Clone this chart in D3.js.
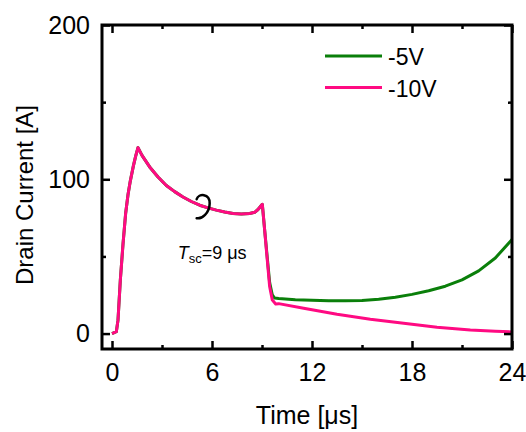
<!DOCTYPE html>
<html><head><meta charset="utf-8">
<script src="https://cdn.jsdelivr.net/npm/d3@7"></script>
<style>
body{margin:0;background:#fff;}
svg{display:block;font-family:"Liberation Sans",Arial,sans-serif;}
</style></head>
<body>
<svg id="c" width="526" height="432"></svg>
<script>
// ---- data ----
const seriesNames = ["-5V", "-10V"];
const seriesColors = ["#0a7f0a", "#ff0a82"];
const timeShared = [0, 0.26, 0.36, 0.5, 0.66, 0.82, 0.96, 1.1, 1.28, 1.42, 1.56, 1.8, 2.26, 2.76, 3.26, 3.76, 4.26, 4.76, 5.26, 5.76, 6.26, 6.76, 7.26, 7.76, 8.26, 8.56, 8.76, 8.92, 9.02, 9.16];
const currentShared = [0, 1.2, 8.7, 34.6, 58, 78, 90, 99, 108.5, 115, 120.5, 115.5, 108, 101.5, 96, 92, 88.5, 85.6, 83.2, 81.5, 80, 78.8, 77.8, 77.5, 77.8, 78.6, 80.4, 82.5, 83.8, 67];
const timeTail5 = [9.3, 9.46, 9.62, 9.76, 10, 11, 12, 13, 14, 15, 16, 17, 18, 19, 20, 21, 22, 23, 24];
const currentTail5 = [51, 33, 25, 23, 22.7, 22, 21.6, 21.3, 21.2, 21.5, 22.3, 23.6, 25.4, 27.8, 30.7, 34.8, 40.6, 49, 61];
const timeTail10 = [9.3, 9.46, 9.62, 9.82, 10, 11.5, 13.5, 15.5, 17.5, 19.5, 21.5, 23, 24];
const currentTail10 = [49.7, 30.3, 21.7, 19.2, 19.4, 16.4, 12.5, 9.3, 6.7, 4.1, 2.3, 1.5, 1.1];
const xTicks = [0, 6, 12, 18, 24];
const xMinorTicks = [3, 9, 15, 21];
const yTicks = [0, 100, 200];
const yMinorTicks = [50, 150];
const xTitle = "Time [μs]";
const yTitle = "Drain Current [A]";
const annotation = {t: 5.44, v: 81.9};

// ---- layout ----
const L = 102, T = 25, R = 512, B = 349;
const svg = d3.select("#c");
const x = d3.scaleLinear().domain([-0.6, 24]).range([L, R]);
const y = d3.scaleLinear().domain([-10, 200]).range([B, T]);

const build = (ts, vs) => ts.map((t, i) => ({t, v: vs[i]}));
const data5 = build(timeShared, currentShared).concat(build(timeTail5, currentTail5));
const data10 = build(timeShared, currentShared).concat(build(timeTail10, currentTail10));

const line = d3.line().x(d => x(d.t)).y(d => y(d.v)).curve(d3.curveLinear);

const plot = svg.append("g");
plot.append("path").datum(data5).attr("d", line).attr("fill", "none")
  .attr("stroke", seriesColors[0]).attr("stroke-width", 3).attr("stroke-linejoin", "round");
plot.append("path").datum(data10).attr("d", line).attr("fill", "none")
  .attr("stroke", seriesColors[1]).attr("stroke-width", 3).attr("stroke-linejoin", "round");

// ---- axes ----
function styleAxis(g) {
  g.select(".domain").remove();
  g.selectAll(".tick line").attr("stroke", "#000").attr("stroke-width", 2.5);
  g.selectAll(".tick text").attr("font-size", 25).attr("fill", "#000")
    .attr("font-family", "Liberation Sans, Arial, sans-serif");
}
svg.append("g").attr("transform", `translate(0,${B})`)
  .call(d3.axisBottom(x).tickValues(xTicks).tickSize(-8).tickPadding(14)).call(styleAxis);
svg.append("g").attr("transform", `translate(0,${B})`)
  .call(d3.axisBottom(x).tickValues(xMinorTicks).tickSize(-4).tickFormat("")).call(styleAxis);
svg.append("g").attr("transform", `translate(0,${T})`)
  .call(d3.axisTop(x).tickValues(xTicks).tickSize(-8).tickFormat("")).call(styleAxis);
svg.append("g").attr("transform", `translate(0,${T})`)
  .call(d3.axisTop(x).tickValues(xMinorTicks).tickSize(-4).tickFormat("")).call(styleAxis);
svg.append("g").attr("transform", `translate(${L},0)`)
  .call(d3.axisLeft(y).tickValues(yTicks).tickSize(-8).tickPadding(12)).call(styleAxis);
svg.append("g").attr("transform", `translate(${L},0)`)
  .call(d3.axisLeft(y).tickValues(yMinorTicks).tickSize(-4).tickFormat("")).call(styleAxis);
svg.append("g").attr("transform", `translate(${R},0)`)
  .call(d3.axisRight(y).tickValues(yTicks).tickSize(-8).tickFormat("")).call(styleAxis);
svg.append("g").attr("transform", `translate(${R},0)`)
  .call(d3.axisRight(y).tickValues(yMinorTicks).tickSize(-4).tickFormat("")).call(styleAxis);

svg.append("rect").attr("x", L).attr("y", T).attr("width", R - L).attr("height", B - T)
  .attr("fill", "none").attr("stroke", "#000").attr("stroke-width", 3);

// titles
svg.append("text").attr("x", (L + R) / 2).attr("y", 424).attr("text-anchor", "middle")
  .attr("font-size", 25).text(xTitle);
svg.append("text").attr("transform", `translate(33,${(T + B) / 2 + 8}) rotate(-90)`)
  .attr("text-anchor", "middle").attr("font-size", 24).text(yTitle);

// legend
const leg = svg.append("g");
seriesNames.forEach((n, i) => {
  const yy = 56 + i * 31.5;
  leg.append("line").attr("x1", 325).attr("x2", 382).attr("y1", yy).attr("y2", yy)
    .attr("stroke", seriesColors[i]).attr("stroke-width", 3);
  leg.append("text").attr("x", 388).attr("y", yy + 9).attr("font-size", 23).text(n);
});

// annotation: curl marker and label
const ax = x(annotation.t), ay = y(annotation.v);
svg.append("path")
  .attr("d", `M${ax - 6},${ay - 8} C${ax - 4},${ay - 14} ${ax + 7},${ay - 14} ${ax + 7},${ay - 4} C${ax + 7},${ay + 6} ${ax - 1},${ay + 12} ${ax - 6},${ay + 11}`)
  .attr("fill", "none").attr("stroke", "#000").attr("stroke-width", 2.5).attr("stroke-linecap", "round");
const lab = svg.append("text").attr("x", ax - 25).attr("y", ay + 52).attr("font-size", 18);
lab.append("tspan").attr("font-style", "italic").text("T");
lab.append("tspan").attr("font-size", 13).attr("dy", 4).text("sc");
lab.append("tspan").attr("dy", -4).text("=9 μs");
</script>
</body></html>
